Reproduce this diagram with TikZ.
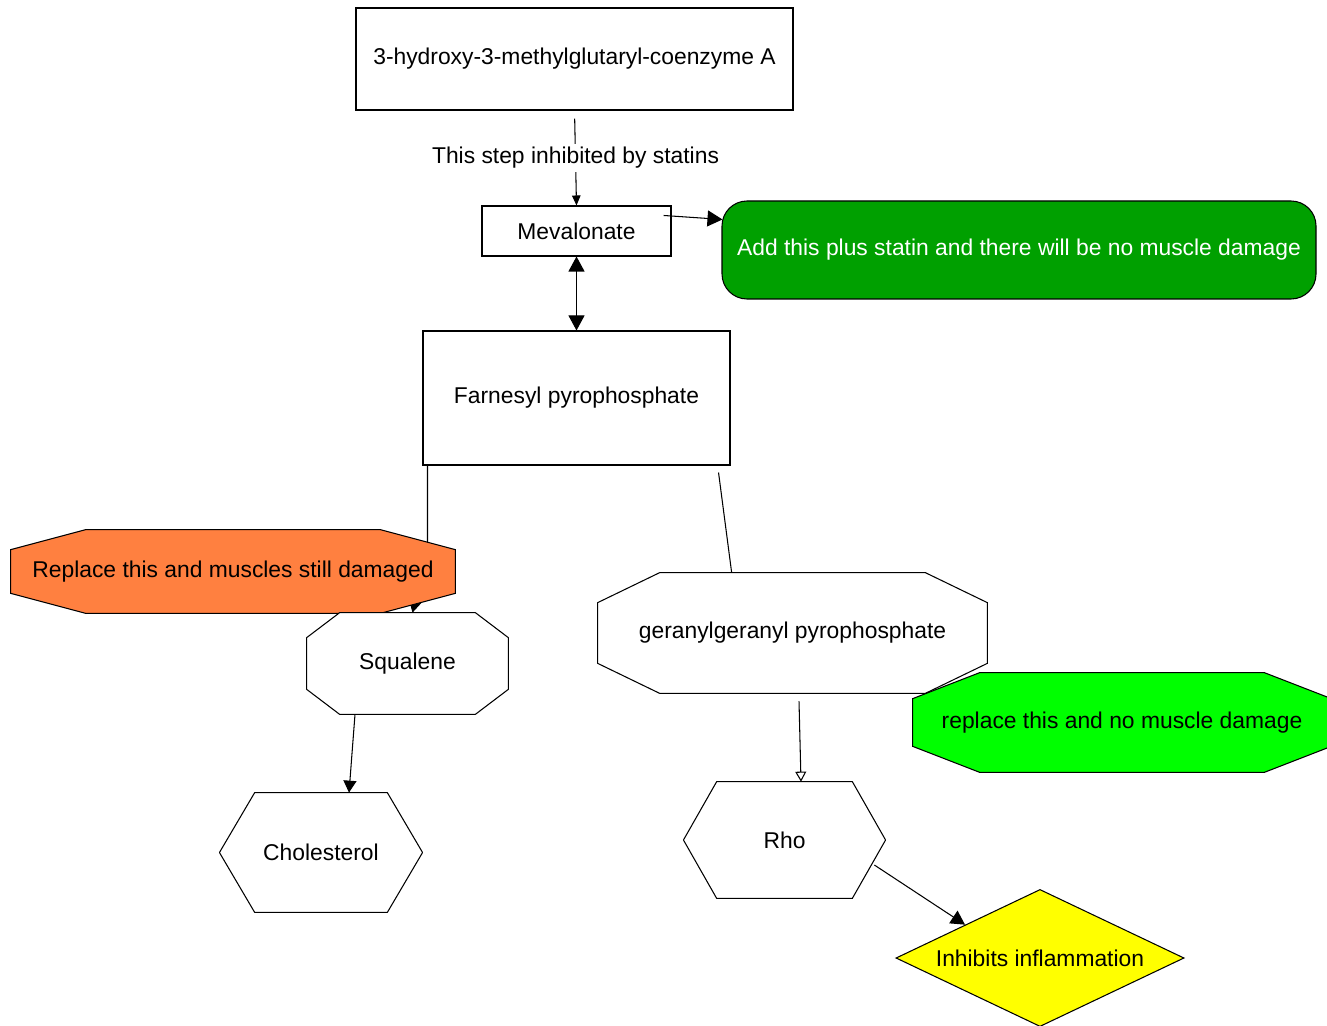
\documentclass[tikz,border=0pt]{standalone}
\usepackage{fontspec}
\setmainfont{Liberation Sans}
\usetikzlibrary{calc,arrows.meta}
\pgfdeclarelayer{edges}
\pgfdeclarelayer{back}
\pgfsetlayers{edges,back,main}
\definecolor{darkgrn}{RGB}{0,160,0}
\definecolor{litegrn}{RGB}{0,255,0}
\definecolor{orng}{RGB}{255,128,64}
\definecolor{yel}{RGB}{255,255,0}
\tikzset{
  sz/.style 2 args={minimum width=#1*0.02cm, minimum height=#2*0.02cm, inner sep=0pt},
  lbl/.style={font=\fontsize{13}{15}\selectfont},
  ln/.style={line width=0.6pt},
  bigarr/.style={ln, -{Triangle[width=0.32cm,length=0.3cm]}},
  smallarr/.style={ln, -{Triangle[width=0.17cm,length=0.2cm]}},
  openarr/.style={ln, -{Triangle[open,fill=white,width=0.22cm,length=0.2cm]}},
}
% chamfered outline round a node: name, cut x, cut y, style
\newcommand{\octa}[4]{%
  \begin{pgfonlayer}{back}
  \draw[ln,#4] ($(#1.north west)+(#2,0)$) -- ($(#1.north east)+(-#2,0)$) -- ($(#1.north east)+(0,#3)$)
    -- ($(#1.south east)+(0,-#3)$) -- ($(#1.south east)+(-#2,0)$) -- ($(#1.south west)+(#2,0)$)
    -- ($(#1.south west)+(0,-#3)$) -- ($(#1.north west)+(0,#3)$) -- cycle;
  \end{pgfonlayer}}
\begin{document}
\begin{tikzpicture}[x=0.02cm, y=-0.02cm]
\useasboundingbox (0,0) rectangle (1327,1026);
% Boxes
\node[lbl, sz={437}{102}, draw, ln] (hmg) at (574.5,59) {3-hydroxy-3-methylglutaryl-coenzyme A};
\node[lbl, sz={189}{50}, draw, ln] (mev) at (576.5,231) {Mevalonate};
\node[lbl, sz={594}{98}, draw, ln, fill=darkgrn, text=white, rounded corners=0.5cm] (add) at (1019,250) {Add this plus statin and there will be no muscle damage};
\node[lbl, sz={307}{134}, draw, ln] (farn) at (576.5,398) {Farnesyl pyrophosphate};
% Octagons and hexagons
\node[lbl, sz={444}{83}] (repl) at (233,571.5) {Replace this and muscles still damaged};
\octa{repl}{75}{20}{fill=orng}
\node[lbl, sz={201}{101}] (sq) at (407.5,663.5) {Squalene};
\octa{sq}{33}{25}{fill=white}
\node[lbl, sz={202}{119}] (chol) at (321,852.5) {Cholesterol};
\octa{chol}{35}{59.5}{fill=white}
\node[lbl, sz={389}{120}] (gg) at (792.5,633) {geranylgeranyl pyrophosphate};
\octa{gg}{62}{30}{fill=white}
\node[lbl, sz={418}{99}] (rep2) at (1122,722.5) {replace this and no muscle damage};
\octa{rep2}{67}{26}{fill=litegrn}
\node[lbl, sz={201}{116}] (rho) at (784.5,840) {Rho};
\octa{rho}{33}{58}{fill=white}
% Diamond
\node[lbl, sz={287}{136}] (inh) at (1040,958) {Inhibits inflammation};
\begin{pgfonlayer}{back}
\draw[ln, fill=yel] (inh.west) -- (inh.north) -- (inh.east) -- (inh.south) -- cycle;
\end{pgfonlayer}
% Connectors
\begin{pgfonlayer}{edges}
\draw[smallarr, shorten <=0.16cm] (hmg.south) -- (mev.north)
  node[lbl, midway, fill=white, inner sep=2pt] (stat) {This step inhibited by statins};
\draw[ln, {Triangle[width=0.32cm,length=0.3cm]}-{Triangle[width=0.32cm,length=0.3cm]}] (mev.south) -- (farn.north);
\draw[bigarr] ($(mev.north east)+(-8,10)$) -- ($(add.north west)+(1,19)$);
\draw[smallarr, -{Triangle[width=0.26cm,length=0.24cm]}] ($(farn.south west)+(5,0)$) -- ++(0,85) -- ($(sq.north)+(5,0)$);
\draw[ln] ($(farn.south east)+(-12,7)$) -- ($(gg.north west)+(134,0)$);
\draw[openarr] ($(gg.south)+(6.5,8)$) -- ($(rho.north)+(16.5,0)$);
\draw[smallarr, -{Triangle[width=0.26cm,length=0.24cm]}] ($(sq.south)+(-52.5,0)$) -- ($(chol.north)+(28,0)$);
\draw[bigarr, -{Triangle[width=0.3cm,length=0.28cm]}] ($(rho.east)+(-11,25)$) -- ($(inh.north)+(-75,35)$);
\end{pgfonlayer}
\end{tikzpicture}
\end{document}
